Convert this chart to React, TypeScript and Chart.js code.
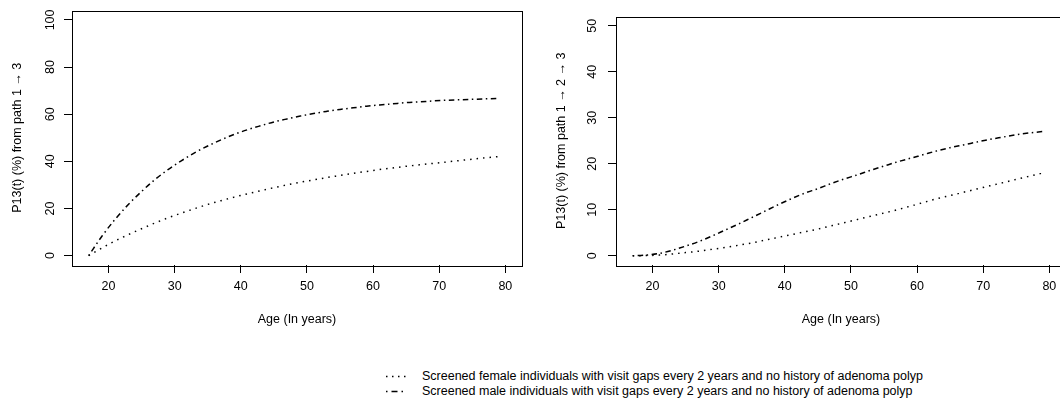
import React, { useEffect, useRef } from "react";
import { Chart, registerables } from "chart.js";

Chart.register(...registerables);

// ---------- data ----------
const ages = [17, 19, 21, 23, 25, 27, 29, 31, 33, 35, 37, 39, 41, 43, 45, 47, 49, 51, 53, 55, 57, 59, 61, 63, 65, 67, 69, 71, 73, 75, 77, 79];

// Left panel: path 1 -> 3
const femalePath13 = [0, 3.2, 6.2, 8.9, 11.4, 13.8, 16.0, 18.0, 19.9, 21.7, 23.3, 24.8, 26.2, 27.5, 28.8, 30.0, 31.1, 32.1, 33.1, 34.0, 34.9, 35.7, 36.5, 37.2, 37.9, 38.5, 39.1, 39.7, 40.3, 40.9, 41.5, 42.0];
const malePath13 = [0, 8.2, 15.4, 21.7, 27.2, 32.2, 36.5, 40.2, 43.6, 46.5, 49.1, 51.4, 53.4, 55.1, 56.7, 58.0, 59.2, 60.3, 61.2, 62.0, 62.7, 63.4, 63.9, 64.4, 64.9, 65.2, 65.6, 65.9, 66.1, 66.3, 66.5, 66.7];

// Right panel: path 1 -> 2 -> 3
const femalePath123 = [0, 0.05, 0.15, 0.4, 0.7, 1.0, 1.4, 1.8, 2.3, 2.8, 3.4, 4.0, 4.6, 5.2, 5.8, 6.5, 7.2, 7.9, 8.6, 9.3, 10.0, 10.8, 11.6, 12.4, 13.1, 13.8, 14.5, 15.2, 15.9, 16.6, 17.3, 18.0];
const malePath123 = [0, 0.15, 0.5, 1.2, 2.1, 3.1, 4.3, 5.6, 6.9, 8.3, 9.7, 11.1, 12.4, 13.6, 14.6, 15.7, 16.7, 17.6, 18.6, 19.5, 20.4, 21.2, 22.0, 22.8, 23.5, 24.1, 24.7, 25.3, 25.8, 26.3, 26.7, 27.0];

const xTicks = [20, 30, 40, 50, 60, 70, 80];
const yTicksLeft = [0, 20, 40, 60, 80, 100];
const yTicksRight = [0, 10, 20, 30, 40, 50];

const xTitle = "Age (In years)";
const yTitleLeft = "P13(t) (%) from path 1 \u2192 3";
const yTitleRight = "P13(t) (%) from path 1 \u2192 2 \u2192 3";
const legendLabels = [
  "Screened female individuals with visit gaps every 2 years and no history of adenoma polyp",
  "Screened male individuals with visit gaps every 2 years and no history of adenoma polyp",
];

// ---------- styles ----------
const FONT = "'Liberation Sans', Arial, Helvetica, sans-serif";
const FS = 12.5;
const DOTTED = [1.5, 5];
const DOTDASH = [1.5, 3.5, 5.5, 3.5];

const boxPlugin = {
  id: "rbox",
  afterDraw(chart: any) {
    const { ctx, chartArea: ca } = chart;
    ctx.save();
    ctx.strokeStyle = "#000";
    ctx.lineWidth = 1;
    ctx.strokeRect(Math.round(ca.left) + 0.5, Math.round(ca.top) + 0.5, Math.round(ca.right - ca.left), Math.round(ca.bottom - ca.top));
    ctx.restore();
  },
};

type PanelProps = {
  left: number;
  yMin: number;
  yMax: number;
  yTicks: number[];
  yTitle: string;
  female: number[];
  male: number[];
  yLabelPad: number;
};

const CW = 545;
const CH = 330;

function Panel({ left, yMin, yMax, yTicks, yTitle, female, male, yLabelPad }: PanelProps) {
  const ref = useRef<HTMLCanvasElement | null>(null);
  useEffect(() => {
    if (!ref.current) return;
    const chart = new Chart(ref.current, {
      type: "line",
      data: {
        datasets: [
          {
            label: legendLabels[0],
            data: ages.map((a, i) => ({ x: a, y: female[i] })),
            borderColor: "#000",
            borderWidth: 1.5,
            borderDash: DOTTED,
            pointRadius: 0,
            cubicInterpolationMode: "monotone",
            fill: false,
          },
          {
            label: legendLabels[1],
            data: ages.map((a, i) => ({ x: a, y: male[i] })),
            borderColor: "#000",
            borderWidth: 1.5,
            borderDash: DOTDASH,
            pointRadius: 0,
            cubicInterpolationMode: "monotone",
            fill: false,
          },
        ],
      },
      options: {
        responsive: false,
        animation: false,
        devicePixelRatio: 1,
        layout: { padding: { top: 9, right: CW - 522, left: 0, bottom: 0 } },
        plugins: { legend: { display: false }, tooltip: { enabled: false } },
        scales: {
          x: {
            type: "linear",
            min: 14.48,
            max: 82.52,
            afterBuildTicks: (s: any) => {
              s.ticks = xTicks.map((v) => ({ value: v }));
            },
            afterFit: (s: any) => {
              s.height = CH - 265;
            },
            grid: { display: true, drawOnChartArea: false, drawTicks: true, tickLength: 8, color: "#000", lineWidth: 1 },
            border: { display: false },
            ticks: {
              autoSkip: false,
              maxRotation: 0,
              minRotation: 0,
              padding: 6,
              color: "#000",
              font: { family: FONT, size: FS },
            },
            title: {
              display: true,
              text: xTitle,
              color: "#000",
              font: { family: FONT, size: FS },
              padding: { top: 0, bottom: 3 },
            },
          },
          y: {
            type: "linear",
            min: yMin,
            max: yMax,
            afterBuildTicks: (s: any) => {
              s.ticks = yTicks.map((v) => ({ value: v }));
            },
            afterFit: (s: any) => {
              s.width = 72;
            },
            grid: { display: true, drawOnChartArea: false, drawTicks: true, tickLength: 8, color: "#000", lineWidth: 1 },
            border: { display: false },
            ticks: {
              autoSkip: false,
              minRotation: 90,
              maxRotation: 90,
              crossAlign: "center",
              padding: yLabelPad,
              color: "#000",
              font: { family: FONT, size: FS },
            },
            title: {
              display: true,
              text: yTitle,
              color: "#000",
              font: { family: FONT, size: FS },
              padding: { top: 10, bottom: 0 },
            },
          },
        },
      } as any,
      plugins: [boxPlugin],
    });
    return () => chart.destroy();
  }, []);
  return (
    <canvas
      ref={ref}
      width={CW}
      height={CH}
      style={{ position: "absolute", left, top: 0, width: CW, height: CH }}
    />
  );
}

function LegendRow({ top, dash, text }: { top: number; dash: string; text: string }) {
  return (
    <div style={{ position: "absolute", left: 0, top, height: 15, width: 1060 }}>
      <svg width={30} height={15} style={{ position: "absolute", left: 385, top: 0 }}>
        <line x1={1} y1={7.5} x2={21} y2={7.5} stroke="#000" strokeWidth={1.3} strokeDasharray={dash} />
      </svg>
      <span
        style={{
          position: "absolute",
          left: 422,
          top: 0,
          fontFamily: FONT,
          fontSize: FS,
          lineHeight: "15px",
          color: "#000",
          whiteSpace: "nowrap",
        }}
      >
        {text}
      </span>
    </div>
  );
}

export default function App() {
  return (
    <div
      style={{
        position: "fixed",
        left: 0,
        top: 0,
        width: 1060,
        height: 401,
        overflow: "hidden",
        background: "#fff",
      }}
    >
      <Panel left={0} yMin={-4} yMax={104} yTicks={yTicksLeft} yTitle={yTitleLeft} female={femalePath13} male={malePath13} yLabelPad={3} />
      <Panel left={544} yMin={-2} yMax={52} yTicks={yTicksRight} yTitle={yTitleRight} female={femalePath123} male={malePath123} yLabelPad={9} />
      <LegendRow top={369} dash="1.5 4.5" text={legendLabels[0]} />
      <LegendRow top={384} dash="1.5 4 6 4" text={legendLabels[1]} />
    </div>
  );
}
